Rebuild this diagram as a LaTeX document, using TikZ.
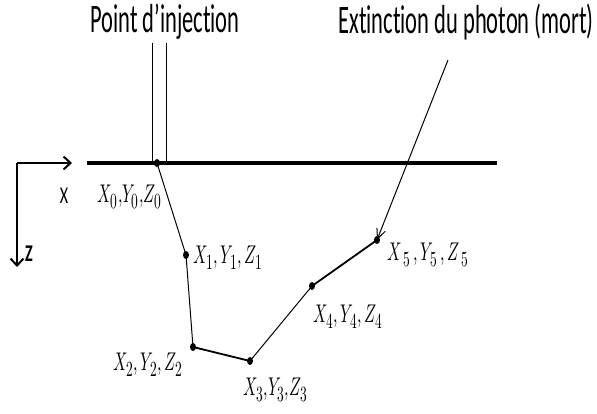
\documentclass[tikz,border=0pt]{standalone}
\usepackage{graphicx}
\usepackage{fontspec}
\setmainfont{Carlito}[Ligatures=NoCommon]
\usepackage{unicode-math}
\setmathfont{Latin Modern Math}
\DeclareMathSizes{16}{16}{13.5}{11}
\usetikzlibrary{arrows.meta}
\tikzset{
  thinline/.style={line width=1pt, black},
  dot/.style={ellipse, fill=black, inner sep=0pt, minimum width=6pt, minimum height=8pt},
  title/.style={inner sep=0pt, font=\fontsize{22.5}{24}\selectfont},
  lab/.style={inner sep=0pt, font=\fontsize{16}{18}\selectfont},
  axis/.style={line width=2pt, -{Straight Barb[length=7pt,width=13pt,line width=2pt]}},
}
\usetikzlibrary{shapes.geometric}
\begin{document}
\begin{tikzpicture}[x=1pt,y=-1pt]
\useasboundingbox (0,0) rectangle (597,414);
% titles
\node[title] (t1) at (165,22) {\scalebox{1}[1.8]{Point d’injection}};
\node[title] (t2) at (466,22) {\scalebox{1}[1.8]{Extinction du photon (mort)}};
% surface line
\coordinate (sL) at (87,163);
\coordinate (sR) at (497,163);
\draw[line width=3.4pt] (sL) -- (sR);
% injection lines
\coordinate (ia) at (152,43);
\coordinate (ib) at (166,43);
\coordinate (ia2) at (152,163);
\coordinate (ib2) at (166,163);
\draw[thinline] (ia) -- (ia2);
\draw[thinline] (ib) -- (ib2);
% axes
\coordinate (o) at (17,163);
\coordinate (ox) at (72,163);
\coordinate (oz) at (17,267);
\draw[axis] (o) -- (ox);
\draw[axis] (o) -- (oz);
\node[inner sep=0pt, font=\fontsize{16}{18}\selectfont] (xl) at (64,196) {\scalebox{1}[1.5]{X}};
\node[inner sep=0pt, font=\fontsize{16}{18}\selectfont\bfseries] (zl) at (29,254) {\scalebox{1}[1.5]{Z}};
% points
\node[dot] (p0) at (157,163) {};
\node[dot] (p1) at (186,255) {};
\node[dot] (p2) at (193,347) {};
\node[dot] (p3) at (250,361) {};
\node[dot] (p4) at (312,286) {};
\node[dot] (p5) at (377,240) {};
\draw[thinline] (p0.center) -- (p1.center) -- (p2.center);
\draw[line width=1.8pt] (p2.center) -- (p3.center);
\draw[thinline] (p3.center) -- (p4.center);
\draw[line width=1.8pt] (p4.center) -- (p5.center);
% labels
\node[lab, anchor=east] (l0) at (162,197) {\scalebox{1}[1.6]{$X_0{,}Y_0{,}Z_0$}};
\node[lab, anchor=west] (l1) at (193,258) {\scalebox{1}[1.6]{$X_1, Y_1, Z_1$}};
\node[lab, anchor=east] (l2) at (183,365) {\scalebox{1}[1.6]{$X_2, Y_2, Z_2$}};
\node[lab, anchor=west] (l3) at (243,390) {\scalebox{1}[1.6]{$X_3{,}Y_3{,}Z_3$}};
\node[lab, anchor=west] (l4) at (313,317) {\scalebox{1}[1.6]{$X_4, Y_4, Z_4$}};
\node[lab, anchor=west] (l5) at (387,255) {\scalebox{1}[1.6]{$X\,_5\,, Y_5\,, Z\,_5$}};
% extinction arrow
\coordinate (ea) at (448,60);
\draw[thinline, -{Straight Barb[length=10pt,width=9pt,line width=1pt]}] (ea) -- (p5.center);
\end{tikzpicture}
\end{document}
